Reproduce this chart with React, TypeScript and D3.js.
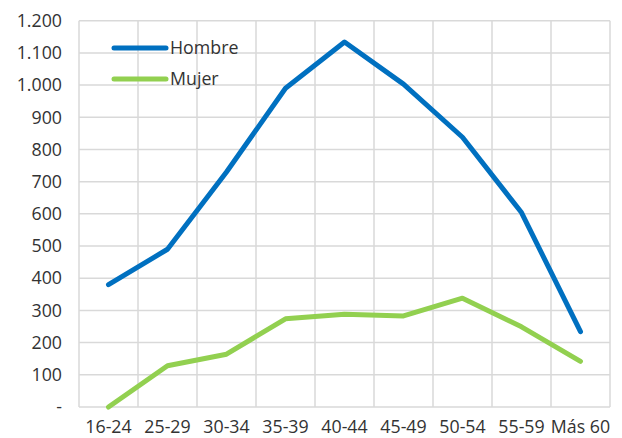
import React, { useEffect, useRef } from 'react';
import * as d3 from 'd3';

const ageGroups = ['16-24', '25-29', '30-34', '35-39', '40-44', '45-49', '50-54', '55-59', 'Más 60'];
const hombre = [380, 490, 730, 990, 1134, 1003, 838, 604, 234];
const mujer = [0, 128, 164, 274, 288, 283, 338, 249, 142];
const yTicks = [0, 100, 200, 300, 400, 500, 600, 700, 800, 900, 1000, 1100, 1200];

const series = [
  { name: 'Hombre', values: hombre, color: '#0070C0' },
  { name: 'Mujer', values: mujer, color: '#92D050' },
];

const fmt = (v: number) => (v === 0 ? '-' : d3.format(',')(v).replace(/,/g, '.'));

const App: React.FC = () => {
  const svgRef = useRef<SVGSVGElement>(null);

  useEffect(() => {
    if (!svgRef.current) return;
    const width = 622;
    const height = 438;
    const left = 79, right = 610, top = 20.7, bottom = 407;

    d3.select(svgRef.current).selectAll('*').remove();
    const svg = d3.select(svgRef.current)
      .attr('width', width)
      .attr('height', height);

    const x = d3.scaleBand<string>().domain(ageGroups).range([left, right]).padding(0);
    const y = d3.scaleLinear().domain([0, 1200]).range([bottom, top]);

    // grid
    const grid = svg.append('g').attr('stroke', '#d9d9d9').attr('stroke-width', 1.5);
    yTicks.forEach(t => {
      grid.append('line')
        .attr('x1', left).attr('x2', right)
        .attr('y1', y(t)).attr('y2', y(t));
    });
    const edges = ageGroups.map(c => x(c)!).concat([right]);
    edges.forEach(e => {
      grid.append('line')
        .attr('x1', e).attr('x2', e)
        .attr('y1', top).attr('y2', bottom);
    });

    const font = '"Open Sans", sans-serif';
    const fs = 17.8;
    const ink = '#333333';

    // y labels
    svg.append('g').selectAll('text')
      .data(yTicks)
      .join('text')
      .attr('x', 62)
      .attr('y', d => y(d))
      .attr('dy', '0.35em')
      .attr('text-anchor', 'end')
      .attr('font-family', font)
      .attr('font-size', fs)
      .attr('fill', ink)
      .text(d => fmt(d));

    // x labels
    svg.append('g').selectAll('text')
      .data(ageGroups)
      .join('text')
      .attr('x', d => x(d)! + x.bandwidth() / 2)
      .attr('y', 433)
      .attr('text-anchor', 'middle')
      .attr('font-family', font)
      .attr('font-size', fs)
      .attr('fill', ink)
      .text(d => d);

    const line = d3.line<number>()
      .x((_, i) => x(ageGroups[i])! + x.bandwidth() / 2)
      .y(d => y(d));

    series.forEach(s => {
      svg.append('path')
        .datum(s.values)
        .attr('fill', 'none')
        .attr('stroke', s.color)
        .attr('stroke-width', 5)
        .attr('stroke-linecap', 'round')
        .attr('stroke-linejoin', 'round')
        .attr('d', line);
    });

    // legend
    series.forEach((s, i) => {
      const ly = 48 + i * 31;
      svg.append('line')
        .attr('x1', 114).attr('x2', 166)
        .attr('y1', ly).attr('y2', ly)
        .attr('stroke', s.color)
        .attr('stroke-width', 5)
        .attr('stroke-linecap', 'round');
      svg.append('text')
        .attr('x', 170)
        .attr('y', ly)
        .attr('dy', '0.35em')
        .attr('font-family', font)
        .attr('font-size', fs)
        .attr('fill', ink)
        .text(s.name);
    });
  }, []);

  return (
    <svg ref={svgRef} style={{ position: 'absolute', left: 0, top: 0, background: '#fff' }}></svg>
  );
};

export default App;
